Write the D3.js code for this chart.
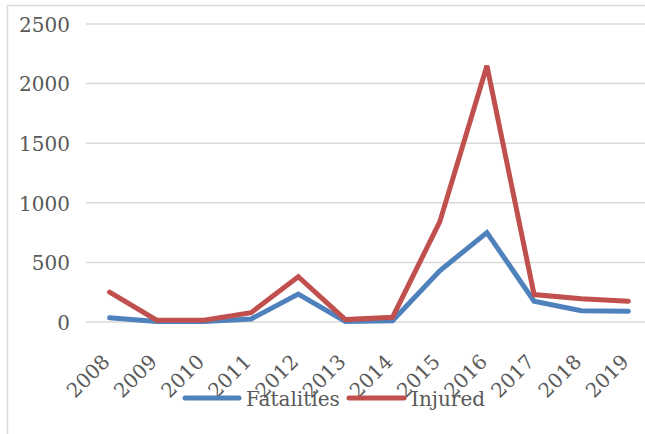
<!DOCTYPE html>
<html>
<head>
<meta charset="utf-8">
<script src="https://cdn.jsdelivr.net/npm/d3@7/dist/d3.min.js"></script>
<style>
  html, body { margin: 0; padding: 0; background: #fff; }
  svg { display: block; }
  text { font-family: "DejaVu Serif", serif; fill: #595959; }
</style>
</head>
<body>
<script>
// Casualties per year
const years = ["2008","2009","2010","2011","2012","2013","2014","2015","2016","2017","2018","2019"];
const fatalities = [35, 5, 5, 25, 235, 5, 10, 430, 750, 175, 95, 90];
const injured = [250, 15, 15, 78, 380, 20, 40, 840, 2150, 230, 195, 175];
const yTicks = [0, 500, 1000, 1500, 2000, 2500];
const seriesNames = ["Fatalities", "Injured"];
const seriesColors = ["#4F81BD", "#C0504D"];

const W = 645, H = 434;
const svg = d3.select("body").append("svg").attr("width", W).attr("height", H);

// chart area frame
svg.append("rect")
  .attr("x", 7.5).attr("y", 5.5).attr("width", 720).attr("height", 520)
  .attr("fill", "none").attr("stroke", "#d9d9d9").attr("stroke-width", 1.5);

const x = d3.scalePoint().domain(years).range([86, 652]).padding(0.5);
const y = d3.scaleLinear().domain([0, 2500]).range([322, 24]);

// horizontal gridlines
svg.append("g").selectAll("line").data(yTicks).join("line")
  .attr("x1", 86).attr("x2", 660)
  .attr("y1", d => y(d)).attr("y2", d => y(d))
  .attr("stroke", "#d9d9d9").attr("stroke-width", 1.5);

// y axis labels
const yAxis = d3.axisLeft(y).tickValues(yTicks).tickFormat(d3.format("d")).tickSize(0).tickPadding(0);
const gy = svg.append("g").attr("transform", "translate(70,0)").call(yAxis);
gy.select(".domain").remove();
gy.selectAll("text")
  .attr("font-family", "DejaVu Serif").attr("font-size", 20).attr("fill", "#595959")
  .attr("dy", "0.36em");

// x axis labels, rotated
const xAxis = d3.axisBottom(x).tickSize(0).tickPadding(0);
const gx = svg.append("g").attr("transform", "translate(0,322)").call(xAxis);
gx.select(".domain").remove();
gx.selectAll("text")
  .attr("font-family", "DejaVu Serif").attr("font-size", 20).attr("fill", "#595959")
  .attr("text-anchor", "end")
  .attr("dy", null).attr("y", null)
  .attr("transform", "translate(1,41) rotate(-45)");

// series lines
const line = d3.line().x((d, i) => x(years[i])).y(d => y(d));
[fatalities, injured].forEach((vals, k) => {
  svg.append("path")
    .datum(vals)
    .attr("d", line)
    .attr("fill", "none")
    .attr("stroke", seriesColors[k])
    .attr("stroke-width", 5)
    .attr("stroke-linecap", "round")
    .attr("stroke-linejoin", "miter");
});

// legend
const legendItems = [
  { x1: 185, x2: 239, tx: 246 },
  { x1: 349, x2: 404, tx: 411 }
];
const lg = svg.append("g");
legendItems.forEach((it, k) => {
  lg.append("line")
    .attr("x1", it.x1).attr("x2", it.x2).attr("y1", 398).attr("y2", 398)
    .attr("stroke", seriesColors[k]).attr("stroke-width", 5).attr("stroke-linecap", "round");
  lg.append("text")
    .attr("x", it.tx).attr("y", 406)
    .attr("font-size", 20)
    .text(seriesNames[k]);
});
</script>
</body>
</html>
